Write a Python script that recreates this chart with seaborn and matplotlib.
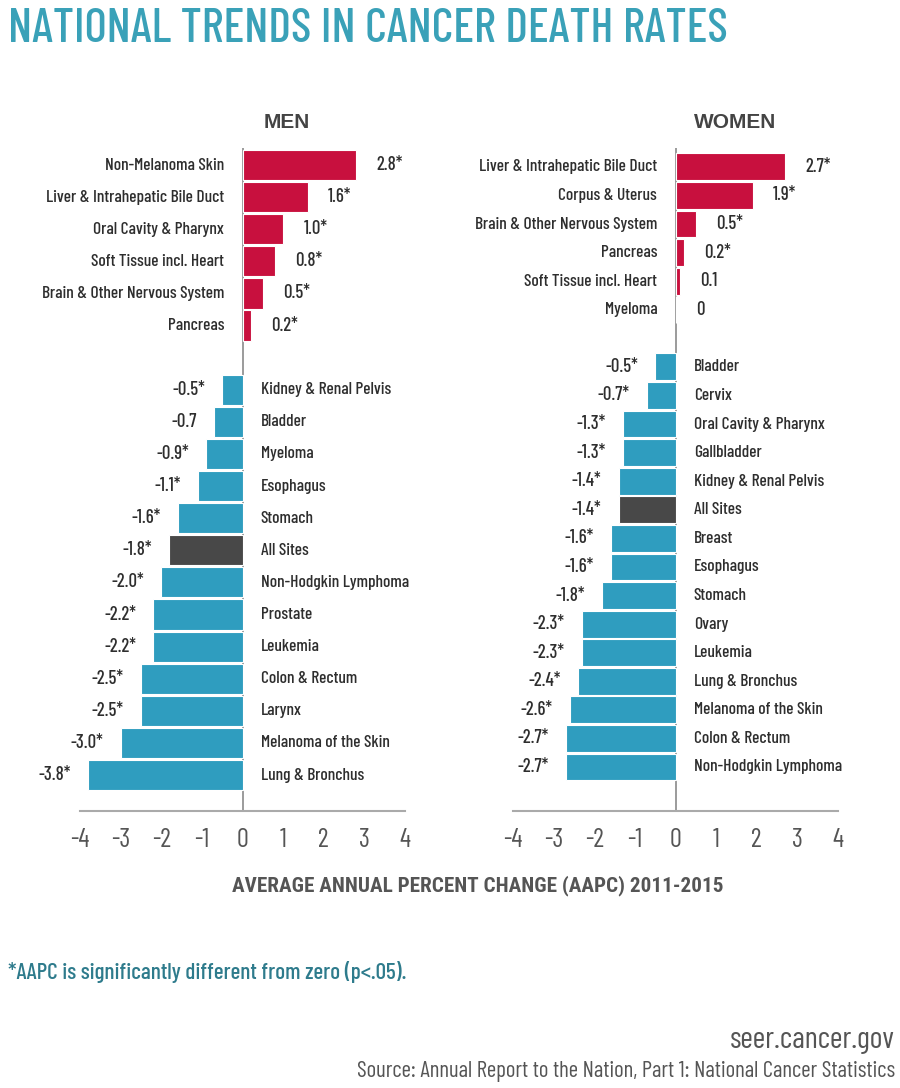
import matplotlib
matplotlib.use("Agg")
import matplotlib.pyplot as plt
from matplotlib import font_manager
import seaborn as sns
import pandas as pd

# Datos (AAPC 2011-2015)
men_sites = ["Non-Melanoma Skin", "Liver & Intrahepatic Bile Duct", "Oral Cavity & Pharynx",
             "Soft Tissue incl. Heart", "Brain & Other Nervous System", "Pancreas",
             "Kidney & Renal Pelvis", "Bladder", "Myeloma", "Esophagus", "Stomach",
             "All Sites", "Non-Hodgkin Lymphoma", "Prostate", "Leukemia", "Colon & Rectum",
             "Larynx", "Melanoma of the Skin", "Lung & Bronchus"]
men_aapc = [2.8, 1.6, 1.0, 0.8, 0.5, 0.2,
            -0.5, -0.7, -0.9, -1.1, -1.6, -1.8, -2.0, -2.2, -2.2, -2.5, -2.5, -3.0, -3.8]
men_sig = [True] * 7 + [False] + [True] * 11

women_sites = ["Liver & Intrahepatic Bile Duct", "Corpus & Uterus", "Brain & Other Nervous System",
               "Pancreas", "Soft Tissue incl. Heart", "Myeloma",
               "Bladder", "Cervix", "Oral Cavity & Pharynx", "Gallbladder", "Kidney & Renal Pelvis",
               "All Sites", "Breast", "Esophagus", "Stomach", "Ovary", "Leukemia",
               "Lung & Bronchus", "Melanoma of the Skin", "Colon & Rectum", "Non-Hodgkin Lymphoma"]
women_aapc = [2.7, 1.9, 0.5, 0.2, 0.1, 0,
              -0.5, -0.7, -1.3, -1.3, -1.4, -1.4, -1.6, -1.6, -1.8, -2.3, -2.3, -2.4, -2.6, -2.7, -2.7]
women_sig = [True] * 4 + [False, False] + [True] * 15

ticks = [-4, -3, -2, -1, 0, 1, 2, 3, 4]

# fuentes disponibles
names = {f.name for f in font_manager.fontManager.ttflist}


def pick(*cands):
    for c in cands:
        if c in names:
            return c
    return "DejaVu Sans"


COND = pick("Barlow Condensed", "Asap Condensed", "Fira Sans Condensed", "Liberation Sans")
NARROW = pick("Roboto Condensed", "Archivo Narrow", "Asap Condensed", "Liberation Sans")
BOLD = pick("Liberation Sans", "Arimo", "DejaVu Sans")

RED = "#c8103e"
TEAL = "#2f9dbf"
DARK = "#484848"
GRAY = "#555555"
TXT = "#2e2e2e"


def make_df(sites, vals, sig):
    df = pd.DataFrame({"site": sites, "aapc": vals, "sig": sig})
    df["kind"] = ["all" if s == "All Sites" else ("up" if v > 0 else "down")
                  for s, v in zip(df["site"], df["aapc"])]
    df["lab"] = [("0" if v == 0 else f"{v:.1f}") + ("*" if g else "")
                 for v, g in zip(df["aapc"], df["sig"])]
    return df


def panel(ax, df, ylim):
    npos = (df["aapc"] >= 0).sum()
    order = list(df["site"][:npos]) + [" "] + list(df["site"][npos:])
    sns.barplot(data=df, y="site", x="aapc", order=order, hue="kind", dodge=False,
                palette={"up": RED, "down": TEAL, "all": DARK}, legend=False, saturation=1,
                width=0.94, edgecolor="white", linewidth=0.8, ax=ax, orient="h")
    ax.axvline(0, color="#8a8a8a", lw=1.2, zorder=0)
    ax.set_xlim(-4, 4)
    ax.set_ylim(*ylim)
    for _, r in df.iterrows():
        y = order.index(r["site"])
        v = r["aapc"]
        if v >= 0:
            ax.text(-0.45, y, r["site"], ha="right", va="center", fontsize=12.5,
                    family=COND, fontweight="medium", color=TXT)
            ax.text(v + 0.5, y, r["lab"], ha="left", va="center", fontsize=13.5,
                    family=COND, fontweight="medium", color=TXT)
        else:
            ax.text(0.45, y, r["site"], ha="left", va="center", fontsize=12.5,
                    family=COND, fontweight="medium", color=TXT)
            ax.text(v - 0.42, y, r["lab"], ha="right", va="center", fontsize=13.5,
                    family=COND, fontweight="medium", color=TXT)
    sns.despine(ax=ax, left=True, top=True, right=True)
    ax.spines["bottom"].set_color("#aaaaaa")
    ax.spines["bottom"].set_linewidth(1.5)
    ax.set_yticks([])
    ax.set_xticks(ticks)
    ax.set_xticklabels([str(t) for t in ticks], family=COND, fontsize=19, color=GRAY)
    ax.tick_params(axis="x", direction="in", length=9, width=1.2, color="#aaaaaa", pad=12)
    ax.set_xlabel("")
    ax.set_ylabel("")


sns.set_style("white")
fig = plt.figure(figsize=(9, 10.88), dpi=100)

ax1 = fig.add_axes([80 / 900, 1 - 811 / 1088, 325 / 900, 663 / 1088])
ax2 = fig.add_axes([513 / 900, 1 - 811 / 1088, 325 / 900, 663 / 1088])

panel(ax1, make_df(men_sites, men_aapc, men_sig), (20.12, -0.53))
panel(ax2, make_df(women_sites, women_aapc, women_sig), (22.54, -0.66))

fig.text(287 / 900, 1 - 122 / 1088, "MEN", ha="center", va="center", fontsize=15,
         fontweight="bold", family=BOLD, color="#444444")
fig.text(735 / 900, 1 - 122 / 1088, "WOMEN", ha="center", va="center", fontsize=15,
         fontweight="bold", family=BOLD, color="#444444")

fig.text(8 / 900, 1 - 29 / 1088, "NATIONAL TRENDS IN CANCER DEATH RATES", ha="left", va="center",
         fontsize=34.5, family=COND, fontweight="medium", color="#3aa1b8")
fig.text(478 / 900, 1 - 886 / 1088, "AVERAGE ANNUAL PERCENT CHANGE (AAPC) 2011-2015",
         ha="center", va="center", fontsize=15.2, family=NARROW, fontweight="bold", color=GRAY)
fig.text(8 / 900, 1 - 972 / 1088, "*AAPC is significantly different from zero (p<.05).",
         ha="left", va="center", fontsize=16.7, family=COND, fontweight="medium", color="#2e7b8c")
fig.text(895 / 900, 1 - 1040 / 1088, "seer.cancer.gov", ha="right", va="center",
         fontsize=22, family=COND, color=GRAY)
fig.text(895 / 900, 1 - 1071 / 1088, "Source: Annual Report to the Nation, Part 1: National Cancer Statistics",
         ha="right", va="center", fontsize=16.5, family=COND, color=GRAY)

fig.savefig("out.png", dpi=100)
